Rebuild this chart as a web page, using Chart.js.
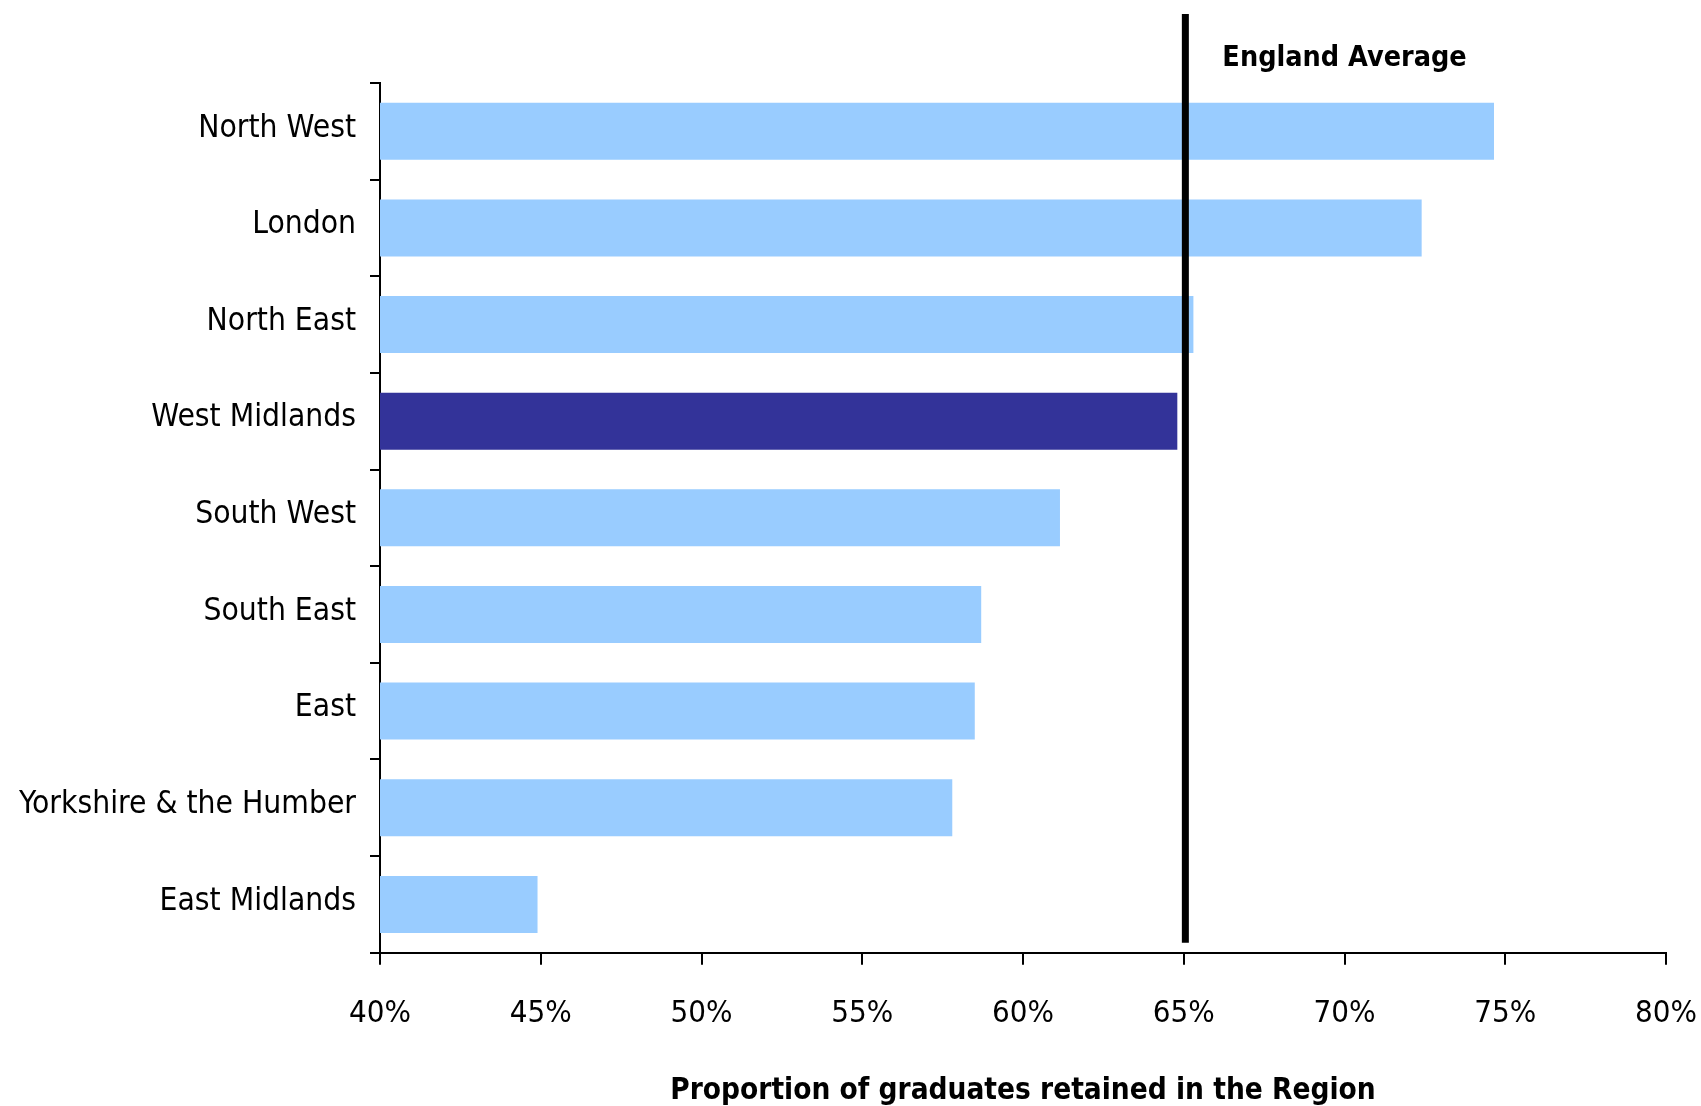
<!DOCTYPE html>
<html>
<head>
<meta charset="utf-8">
<script src="https://cdn.jsdelivr.net/npm/chart.js@4.4.0/dist/chart.umd.min.js"></script>
<style>
  html, body { margin: 0; padding: 0; background: #ffffff; }
  #wrap { width: 1701px; height: 1106px; position: relative; }
</style>
</head>
<body>
<div id="wrap"><canvas id="chart" width="1701" height="1106"></canvas></div>
<script>
// ---- data ----
const categories = [
  'North West', 'London', 'North East', 'West Midlands', 'South West',
  'South East', 'East', 'Yorkshire & the Humber', 'East Midlands'
];
const retainedPct = [74.65, 72.4, 65.3, 64.8, 61.15, 58.7, 58.5, 57.8, 44.9];
const englandAverage = 65.05;
const highlightedRegion = 'West Midlands';
const xAxisMin = 40;
const xAxisMax = 80;
const xAxisStep = 5;
const xAxisTitle = 'Proportion of graduates retained in the Region';
const averageLabel = 'England Average';

// ---- styles ----
const FONT = '"DejaVu Sans Condensed", "DejaVu Sans", sans-serif';
const LIGHT = '#99CCFF';
const DARK = '#333399';

const averagePlugin = {
  id: 'englandAverage',
  afterDatasetsDraw(chart) {
    const xs = chart.scales.x;
    const area = chart.chartArea;
    const x = xs.getPixelForValue(englandAverage);
    const ctx = chart.ctx;
    ctx.save();
    ctx.strokeStyle = '#000';
    ctx.lineWidth = 7;
    ctx.beginPath();
    ctx.moveTo(x, area.top - 69);
    ctx.lineTo(x, area.bottom - 10);
    ctx.stroke();
    ctx.fillStyle = '#000';
    ctx.font = 'bold 28.5px ' + FONT;
    ctx.textAlign = 'left';
    ctx.textBaseline = 'middle';
    ctx.fillText(averageLabel, x + 37, area.top - 24);
    ctx.restore();
  }
};

new Chart(document.getElementById('chart'), {
  type: 'bar',
  data: {
    labels: categories,
    datasets: [{
      data: retainedPct,
      backgroundColor: categories.map(c => c === highlightedRegion ? DARK : LIGHT),
      borderWidth: 0,
      barPercentage: 0.59,
      categoryPercentage: 1.0
    }]
  },
  options: {
    indexAxis: 'y',
    responsive: false,
    animation: false,
    layout: { padding: { left: 0, right: 35, top: 83, bottom: 0 } },
    plugins: { legend: { display: false }, tooltip: { enabled: false }, title: { display: false } },
    scales: {
      y: {
        afterFit(scale) { scale.width = 380; scale.paddingTop = 0; scale.paddingBottom = 0; },
        border: { color: '#000', width: 2 },
        grid: { drawOnChartArea: false, tickLength: 10, color: '#000', lineWidth: 2 },
        ticks: { color: '#000', font: { family: FONT, size: 31.5 }, padding: 14, labelOffset: -3 }
      },
      x: {
        min: xAxisMin,
        max: xAxisMax,
        afterFit(scale) { scale.height = 153.3; scale.paddingLeft = 0; scale.paddingRight = 0; },
        border: { color: '#000', width: 2 },
        grid: { drawOnChartArea: false, tickLength: 12, color: '#000', lineWidth: 2 },
        ticks: {
          stepSize: xAxisStep,
          color: '#000',
          font: { family: FONT, size: 31 },
          padding: 31,
          maxRotation: 0,
          callback: v => v + '%'
        },
        title: {
          display: true,
          text: xAxisTitle,
          color: '#000',
          font: { family: FONT, size: 29.5, weight: 'bold', lineHeight: 1.0 },
          padding: { top: 0, bottom: 0 }
        }
      }
    }
  },
  plugins: [averagePlugin]
});
</script>
</body>
</html>
